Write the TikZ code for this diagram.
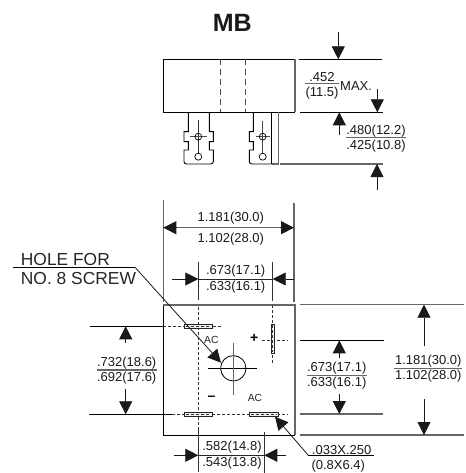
\documentclass[tikz,border=0pt]{standalone}
\usepackage{fontspec}
\setmainfont{Liberation Sans}
\usepackage{xcolor}
\usetikzlibrary{arrows.meta}
\tikzset{
	outline/.style={line width=0.9pt, black},
	grayline/.style={line width=1.1pt, black!60},
	centerline/.style={line width=0.7pt, densely dashed, black!80},
	dimarrow/.style={line width=0.8pt, black!90, -{Triangle[length=13pt,width=13pt]}},
	dimtext/.style={font=\fontsize{13}{13}\selectfont, text=black!90, inner sep=0pt},
	slotbox/.style={line width=0.8pt, draw=black!85, fill=black!6}
}

\begin{document}
\begin{tikzpicture}[x=1pt,y=-1pt]
	\useasboundingbox (0,0) rectangle (465,473);

	% Draw the title
	\node[font=\fontsize{25}{25}\selectfont\bfseries, text=black!90, inner sep=0pt] (title) at (232.3, 22.7) {MB};

	% Draw the side view body
	\draw[outline] (295,59.3) -- (163.3,59.3) -- (163.3,112.3) -- (295,112.3);
	\draw[grayline] (295,59.3) -- (295,112.3);
	\draw[line width=0.9pt, dash pattern=on 6pt off 4pt, black!70] (220,59.3) -- (220,112.3);
	\draw[line width=0.9pt, dash pattern=on 6pt off 4pt, black!70] (245.3,59.3) -- (245.3,112.3);

	% Draw the left tab
	\draw[outline] (188.3,112.3) -- (188.3,131.7) -- (184,131.7) -- (184,141.7) -- (188.3,141.7) -- (188.3,150) -- (184,150)
		[rounded corners=2.5pt] -- (184,164) -- (213.3,164) [rounded corners=0pt] -- (213.3,150) -- (209.3,150)
		-- (209.3,141.7) -- (213.3,141.7) -- (213.3,131.7) -- (209.3,131.7) -- (209.3,112.3);
	\draw[line width=0.6pt, black!80] (198.3,120) -- (198.3,153.2);
	\draw[line width=0.6pt, black!70] (190,136.7) -- (207.3,136.7);
	\draw[line width=0.7pt] (198.3,136.7) circle (3.4);
	\draw[line width=0.7pt] (198.3,156.7) circle (3.5);

	% Draw the right tab
	\draw[outline] (253.3,112.3) -- (253.3,131.7) -- (249.3,131.7) -- (249.3,141.7) -- (253.3,141.7) -- (253.3,150) -- (249.3,150)
		[rounded corners=2.5pt] -- (249.3,164) -- (271.7,164);
	\draw[outline] (271.7,112.3) -- (271.7,164);
	\draw[grayline] (278.3,112.3) -- (278.3,164) -- (271.7,164);
	\draw[line width=0.6pt, black!70] (262.7,121) -- (262.7,153.2);
	\draw[line width=0.6pt, black!70] (256,136.7) -- (270,136.7);
	\draw[line width=0.7pt] (262.7,136.7) circle (3.4);
	\draw[line width=0.7pt] (262.7,156.7) circle (3.5);

	% Side view height dimensions
	\draw[outline] (299.3,59.3) -- (382.3,59.3);
	\draw[outline] (300.3,112.3) -- (383.3,112.3);
	\draw[grayline] (280,164) -- (383.3,164);
	\draw[dimarrow] (338.3,32.3) -- (338.3,59.3);
	\draw[dimarrow] (377.3,89.3) -- (377.3,112.3);
	\draw[dimarrow] (339.3,135) -- (339.3,112.3);
	\draw[dimarrow] (377,190) -- (377,164);
	\draw[grayline] (305,83.3) -- (339,83.3);
	\draw[grayline] (346,137.7) -- (406,137.7);
	\node[dimtext] (bodymax) at (322, 77) {.452};
	\node[dimtext] (bodymin) at (322, 92.7) {(11.5)};
	\node[dimtext, anchor=west] (maxtext) at (340, 85.7) {MAX.};
	\node[dimtext] (tabmax) at (376, 131) {.480(12.2)};
	\node[dimtext] (tabmin) at (376, 146) {.425(10.8)};

	% Draw the top view square and the hole
	\draw[outline] (163.3,305) -- (163.3,435.3) -- (295,435.3);
	\draw[grayline] (163.3,305) -- (295,305) -- (295,435.3);
	\draw[line width=0.8pt] (233.3,368.3) circle (12.7);
	\draw[line width=0.8pt] (208.3,368.3) -- (256.7,368.3);
	\draw[grayline] (233.3,343.3) -- (233.3,395);

	% Center lines
	\draw[outline] (90,326.3) -- (163.3,326.3);
	\draw[centerline] (163.3,326.3) -- (221,326.3);
	\draw[outline] (89.3,414.3) -- (171.7,414.3);
	\draw[centerline] (171.7,414.3) -- (287.3,414.3);
	\draw[centerline] (261.7,340.3) -- (288.3,340.3);
	\draw[centerline] (198.3,306.7) -- (198.3,432);
	\draw[centerline] (272.7,305) -- (272.7,365);

	% Draw the terminal slots
	\foreach \slotx/\sloty/\slotw/\sloth in {184/324.7/28.7/3.4, 184/412.6/28.7/3.4, 249.3/412.6/29/3.4, 271/324/3.7/29.3}
		\draw[slotbox] (\slotx,\sloty) rectangle ++(\slotw,\sloth);
	\draw[centerline] (186,326.3) -- (211,326.3);
	\draw[centerline] (186,414.3) -- (211,414.3);
	\draw[centerline] (251,414.3) -- (277,414.3);
	\draw[centerline] (272.8,325) -- (272.8,352);

	% Terminal marks
	\node[font=\fontsize{10.3}{10.3}\selectfont, text=black!85, inner sep=0pt] (acone) at (211.3, 340) {AC};
	\node[font=\fontsize{10.3}{10.3}\selectfont, text=black!85, inner sep=0pt] (actwo) at (255, 398.3) {AC};
	\node[font=\fontsize{14}{14}\selectfont\bfseries, inner sep=0pt] (plus) at (254.3, 338.3) {+};
	\node[font=\fontsize{14}{14}\selectfont\bfseries, inner sep=0pt] (minus) at (211.5, 398.5) {–};

	% Width dimension on top
	\draw[grayline] (163.3,200) -- (163.3,301.7);
	\draw[grayline] (294,202.7) -- (294,301.7);
	\coordinate (widthl) at (163.3,227.7);
	\coordinate (widthr) at (294,227.7);
	\draw[grayline] (widthl) -- (widthr);
	\draw[dimarrow] (177,227.7) -- (widthl);
	\draw[dimarrow] (280,227.7) -- (widthr);
	\node[dimtext] (widthmax) at (230.8, 217.7) {1.181(30.0)};
	\node[dimtext] (widthmin) at (230.8, 239) {1.102(28.0)};

	% Pin spacing on top
	\draw[line width=0.7pt, black!80] (198.3,261.7) -- (198.3,300);
	\draw[line width=0.7pt, black!80] (272.7,262.3) -- (272.7,301);
	\draw[line width=0.8pt, black!85] (198.3,279) -- (272.7,279);
	\draw[dimarrow] (172.3,279) -- (198.3,279);
	\draw[dimarrow] (294,279) -- (272.7,279);
	\node[dimtext] (pintopmax) at (235.7, 271) {.673(17.1)};
	\node[dimtext] (pintopmin) at (235.7, 286.7) {.633(16.1)};

	% Pin spacing on the bottom
	\draw[line width=0.7pt, black!80] (198.3,430) -- (198.3,471.7);
	\draw[line width=0.7pt, black!80] (264.3,432.3) -- (264.3,472.7);
	\draw[line width=0.8pt, black!85] (198.3,455.3) -- (264.3,455.3);
	\draw[dimarrow] (174,455.3) -- (198.3,455.3);
	\draw[dimarrow] (286,455.3) -- (264.3,455.3);
	\node[dimtext] (pinbotmax) at (232, 447.3) {.582(14.8)};
	\node[dimtext] (pinbotmin) at (232, 463.3) {.543(13.8)};

	% Left height dimension
	\draw[dimarrow] (125.7,343) -- (125.7,326.3);
	\draw[dimarrow] (125.7,389) -- (125.7,414.3);
	\draw[grayline] (96.7,370) -- (156.7,370);
	\node[dimtext] (leftmax) at (126.7, 363) {.732(18.6)};
	\node[dimtext] (leftmin) at (126.7, 378.3) {.692(17.6)};

	% Right dimensions
	\draw[grayline] (300,304.7) -- (464.3,304.7);
	\draw[outline] (300,340.3) -- (384.3,340.3);
	\draw[grayline] (300,414) -- (383.3,414);
	\draw[grayline] (300,435) -- (464.3,435);
	\draw[dimarrow] (339.3,358.3) -- (339.3,340.3);
	\draw[dimarrow] (339.3,394) -- (339.3,414);
	\draw[grayline] (306.7,375.3) -- (366.7,375.3);
	\node[dimtext] (rightinmax) at (336.7, 367.7) {.673(17.1)};
	\node[dimtext] (rightinmin) at (336.7, 383.3) {.633(16.1)};
	\draw[dimarrow] (424,345.7) -- (424,304.7);
	\draw[dimarrow] (424,399.3) -- (424,435);
	\draw[grayline] (394,368.7) -- (461.7,368.7);
	\node[dimtext] (rightmax) at (428.3, 361) {1.181(30.0)};
	\node[dimtext] (rightmin) at (428.3, 376) {1.102(28.0)};

	% Label the hole
	\coordinate (holetip) at (221,362.7);
	\coordinate (holebend) at (135,267.3);
	\draw[outline] (13.3,267.3) -- (holebend);
	\draw[dimarrow] (holebend) -- (holetip);
	\node[font=\fontsize{17.4}{17.4}\selectfont, text=black!85, inner sep=0pt, anchor=west] (holeone) at (20.7, 259.3) {HOLE FOR};
	\node[font=\fontsize{17.4}{17.4}\selectfont, text=black!85, inner sep=0pt, anchor=west] (holetwo) at (20.7, 278.3) {NO. 8 SCREW};

	% Label the slot size
	\coordinate (slottip) at (275,416.7);
	\coordinate (slotbend) at (308.3,455.3);
	\draw[outline] (374,455.3) -- (slotbend);
	\draw[dimarrow] (slotbend) -- (slottip);
	\node[dimtext] (slotinch) at (341.7, 450) {.033X.250};
	\node[dimtext] (slotmm) at (338.3, 466) {(0.8X6.4)};
\end{tikzpicture}
\end{document}
